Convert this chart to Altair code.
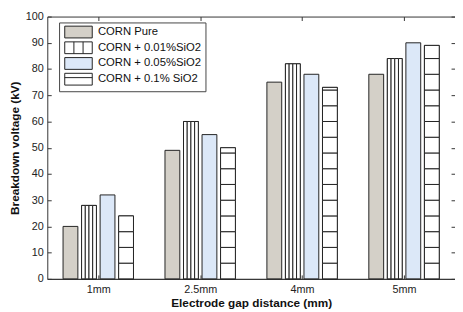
import json
import altair as alt
import pandas as pd

# ---- data ----
categories = ["1mm", "2.5mm", "4mm", "5mm"]
series = ["CORN Pure", "CORN + 0.01%SiO2", "CORN + 0.05%SiO2", "CORN + 0.1% SiO2"]
corn_pure = [20, 49, 75, 78]
corn_001 = [28, 60, 82, 84]
corn_005 = [32, 55, 78, 90]
corn_01 = [24, 50, 73, 89]
y_ticks = list(range(0, 101, 10))

# ---- style ----
fills = ["#d4d0c8", "#ffffff", "#dce8f8", "#ffffff"]
legend_paths = [
    "M-1,-1.5H6V1.5H-1Z",
    "M-1,-1.5H6V1.5H-1Z M1.333,-1.5V1.5 M3.667,-1.5V1.5",
    "M-1,-1.5H6V1.5H-1Z",
    "M-1,-1.5H6V1.5H-1Z M-1,-0.4H6",
]
FONT = "Liberation Sans"
EDGE = "#222222"
W, H = 415, 267
hatch_step = 6.0
n_stripes = 4

values = [corn_pure, corn_001, corn_005, corn_01]
n = len(series)
group_w = min(0.8, n / (n + 1.5))
slot = group_w / n
bar_w = 0.8 * slot

rows = []
for s_i, (name, vals) in enumerate(zip(series, values)):
    for c_i, v in enumerate(vals):
        center = c_i + 1 + (s_i - (n - 1) / 2) * slot
        rows.append(dict(series=name, cat=categories[c_i],
                         x0=center - bar_w / 2, x1=center + bar_w / 2,
                         base=0.0, value=float(v)))
bars = pd.DataFrame(rows)

# vertical-stripe pattern (series 2)
vrows = []
for r in bars[bars.series == series[1]].itertuples():
    sw = (r.x1 - r.x0) / n_stripes
    for k in range(n_stripes):
        vrows.append(dict(x0=r.x0 + k * sw, x1=r.x0 + (k + 1) * sw, base=0.0, value=r.value))
vstripes = pd.DataFrame(vrows)

# horizontal-stripe pattern (series 4)
hrows = []
for r in bars[bars.series == series[3]].itertuples():
    lo = 0.0
    while lo < r.value - 1e-9:
        hi = min(lo + hatch_step, r.value)
        hrows.append(dict(x0=r.x0, x1=r.x1, base=lo, value=hi))
        lo = hi
hstripes = pd.DataFrame(hrows)

xscale = alt.Scale(domain=[0.5, 4.5], nice=False, zero=False)
yscale = alt.Scale(domain=[0, 100], nice=False, zero=False)
label_expr = "%s[round(datum.value) - 1]" % json.dumps(categories)

ax_bottom = alt.Axis(values=[1, 2, 3, 4], labelExpr=label_expr, ticks=False, grid=False,
                     title="Electrode gap distance (mm)", labelPadding=5, titlePadding=3,
                     labelFontSize=11, titleFontSize=12, titleFontWeight="bold")
ax_left = alt.Axis(values=y_ticks, ticks=False, grid=False, title="Breakdown voltage (kV)",
                   labelPadding=4, titlePadding=4, labelFontSize=11,
                   titleFontSize=12, titleFontWeight="bold")
ax_in_bottom = alt.Axis(orient="top", offset=-H, values=[1, 2, 3, 4], labels=False,
                        tickSize=4, grid=False, title=None)
ax_in_top = alt.Axis(orient="bottom", offset=-H, values=[1, 2, 3, 4], labels=False,
                     tickSize=4, grid=False, title=None)
ax_in_left = alt.Axis(orient="right", offset=-W, values=y_ticks, labels=False,
                      tickSize=4, grid=False, title=None, domain=False)
ax_in_right = alt.Axis(orient="left", offset=-W, values=y_ticks, labels=False,
                       tickSize=4, grid=False, title=None, domain=False)

leg = alt.Legend(
    orient="none", legendX=12, legendY=6, title=None,
    symbolSize=64, symbolStrokeColor=EDGE, symbolStrokeWidth=1, symbolOpacity=1,
    labelFont=FONT, labelFontSize=11.5, labelColor="#111111",
    labelOffset=24, rowPadding=-1, padding=4,
    fillColor="white", strokeColor="#444444",
)

base_bars = alt.Chart(bars).mark_bar(stroke=EDGE, strokeWidth=1).encode(
    x=alt.X("x0:Q", scale=xscale, axis=ax_bottom),
    x2="x1:Q",
    y=alt.Y("value:Q", scale=yscale, axis=ax_left),
    y2="base:Q",
    color=alt.Color("series:N", scale=alt.Scale(domain=series, range=fills), legend=leg),
)

vbars = alt.Chart(vstripes).mark_bar(fill="white", stroke=EDGE, strokeWidth=1).encode(
    x=alt.X("x0:Q", scale=xscale, axis=ax_in_bottom),
    x2="x1:Q",
    y=alt.Y("value:Q", scale=yscale, axis=ax_in_right),
    y2="base:Q",
)

hbars = alt.Chart(hstripes).mark_bar(fill="white", stroke=EDGE, strokeWidth=1).encode(
    x=alt.X("x0:Q", scale=xscale, axis=ax_in_top),
    x2="x1:Q",
    y=alt.Y("value:Q", scale=yscale, axis=ax_in_left),
    y2="base:Q",
)

legend_layer = alt.Chart(bars).mark_point(
    filled=True, size=64, strokeWidth=1, opacity=0
).encode(
    x=alt.X("x0:Q", scale=xscale, axis=None),
    y=alt.Y("base:Q", scale=yscale, axis=None),
    color=alt.Color("series:N", scale=alt.Scale(domain=series, range=fills), legend=leg),
    shape=alt.Shape("series:N", scale=alt.Scale(domain=series, range=legend_paths), legend=leg),
    stroke=alt.Stroke("series:N", scale=alt.Scale(domain=series, range=[EDGE] * len(series)),
                      legend=leg),
)

chart = alt.layer(base_bars, vbars, hbars, legend_layer).resolve_axis(
    x="independent", y="independent"
).properties(
    width=W, height=H,
    autosize=alt.AutoSizeParams(type="none"),
    padding={"left": 40, "top": 6, "right": 0, "bottom": 31},
).configure(
    font=FONT,
).configure_view(
    stroke=None,
).configure_axis(
    domainColor="#333333", tickColor="#333333", labelColor="#222222",
    titleColor="#111111", labelFont=FONT, titleFont=FONT,
).configure_legend(
    symbolOpacity=1, strokeColor="#444444",
)

chart.save("out.html", embed_options={"renderer": "svg", "actions": False})
